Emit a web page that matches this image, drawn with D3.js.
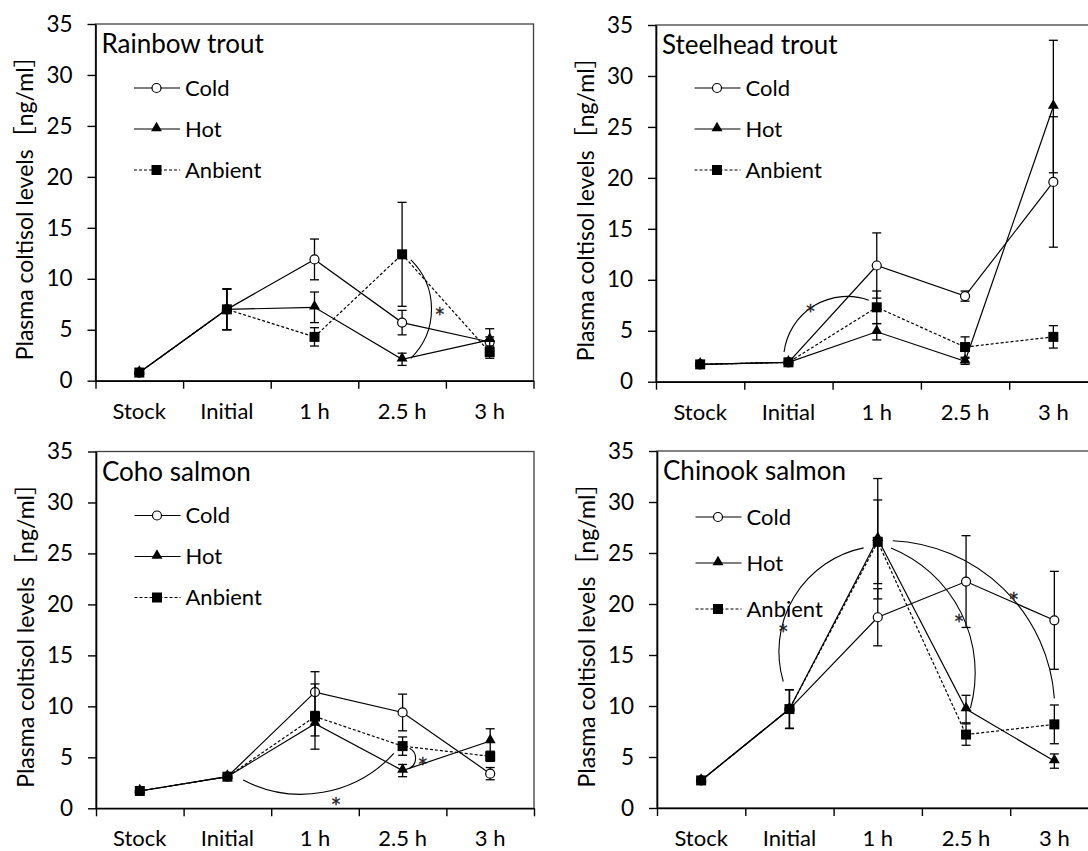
<!DOCTYPE html>
<html>
<head>
<meta charset="utf-8">
<script src="https://cdn.jsdelivr.net/npm/d3@7"></script>
<style>
  body { margin: 0; background: #fff; }
  svg { display: block; font-family: Lato, "Noto Sans CJK JP", sans-serif; }
</style>
</head>
<body>
<svg id="chart" width="1088" height="851"></svg>
<script>

var categories = ['Stock', 'Initial', '1 h', '2.5 h', '3 h'];
var yTicks = [0, 5, 10, 15, 20, 25, 30, 35];
var titles = ['Rainbow trout', 'Steelhead trout', 'Coho salmon', 'Chinook salmon'];
var seriesNames = ['Cold', 'Hot', 'Anbient'];
var yLabel = 'Plasma coltisol levels［ng/ml］';

// Rainbow trout
var rainbowCold = [0.8, 7.0, 11.9, 5.7, 3.8];
var rainbowColdErr = [0, 2.0, 2.0, 1.2, 0.5];
var rainbowHot = [0.8, 7.0, 7.2, 2.1, 4.0];
var rainbowHotErr = [0, 2.0, 1.5, 0.6, 1.1];
var rainbowAmb = [0.8, 7.0, 4.3, 12.4, 2.8];
var rainbowAmbErr = [0, 2.0, 0.9, 5.1, 0.6];

// Steelhead trout
var steelCold = [1.7, 1.9, 11.4, 8.4, 19.6];
var steelColdErr = [0, 0, 3.2, 0.5, 6.4];
var steelHot = [1.7, 1.9, 4.9, 2.0, 27.0];
var steelHotErr = [0, 0, 0.8, 0.3, 6.5];
var steelAmb = [1.7, 1.9, 7.3, 3.4, 4.4];
var steelAmbErr = [0, 0, 1.6, 1.0, 1.1];

// Coho salmon
var cohoCold = [1.7, 3.1, 11.4, 9.4, 3.4];
var cohoColdErr = [0, 0, 2.0, 1.8, 0.6];
var cohoHot = [1.7, 3.1, 8.3, 3.7, 6.6];
var cohoHotErr = [0, 0, 1.2, 0.6, 1.2];
var cohoAmb = [1.7, 3.1, 9.0, 6.1, 5.1];
var cohoAmbErr = [0, 0, 3.2, 0.9, 0.5];

// Chinook salmon
var chinookCold = [2.7, 9.7, 18.7, 22.2, 18.4];
var chinookColdErr = [0, 1.9, 2.8, 4.5, 4.8];
var chinookHot = [2.7, 9.7, 26.4, 9.7, 4.6];
var chinookHotErr = [0, 1.9, 5.9, 1.35, 0.7];
var chinookAmb = [2.7, 9.7, 26.1, 7.2, 8.2];
var chinookAmbErr = [0, 1.9, 4.1, 1.05, 1.9];

// significance arcs: [category position, value] ends, bend = sagitta / chord
var rainbowArcs = [{from: [3.10, 11.85], to: [3.10, 2.2], bend: -0.21}];
var rainbowStars = [[3.43, 6.9]];
var steelArcs = [{from: [0.95, 2.9], to: [1.91, 8.0], bend: -0.24}];
var steelStars = [[1.25, 7.35]];
var cohoArcs = [
  {from: [1.18, 2.77], to: [2.90, 5.39], bend: 0.17},
  {from: [3.08, 5.88], to: [3.08, 3.92], bend: -0.3}
];
var cohoStars = [[2.24, 0.8], [3.23, 4.74]];
var chinookArcs = [
  {from: [0.93, 12.4], to: [1.84, 25.5], bend: -0.22},
  {from: [2.15, 25.5], to: [3.05, 9.8], bend: -0.19},
  {from: [2.17, 26.2], to: [4.00, 10.75], bend: -0.19}
];
var chinookStars = [[0.93, 17.7], [2.92, 18.75], [3.54, 20.9]];

var panels = [
  {title: titles[0], box: {left: 95.5, top: 24, bottom: 380.7, band: 87.6}, legendTop: 64, legendGap: 41,
   values: [rainbowCold, rainbowHot, rainbowAmb], errs: [rainbowColdErr, rainbowHotErr, rainbowAmbErr],
   arcs: rainbowArcs, stars: rainbowStars},
  {title: titles[1], box: {left: 656, top: 25, bottom: 381.7, band: 88.3}, legendTop: 63, legendGap: 41,
   values: [steelCold, steelHot, steelAmb], errs: [steelColdErr, steelHotErr, steelAmbErr],
   arcs: steelArcs, stars: steelStars},
  {title: titles[2], box: {left: 96, top: 451.5, bottom: 808.3, band: 87.6}, legendTop: 64, legendGap: 41,
   values: [cohoCold, cohoHot, cohoAmb], errs: [cohoColdErr, cohoHotErr, cohoAmbErr],
   arcs: cohoArcs, stars: cohoStars},
  {title: titles[3], box: {left: 657, top: 451, bottom: 808, band: 88.3}, legendTop: 66, legendGap: 46,
   values: [chinookCold, chinookHot, chinookAmb], errs: [chinookColdErr, chinookHotErr, chinookAmbErr],
   arcs: chinookArcs, stars: chinookStars}
];

var markers = ['circle', 'triangle', 'square'];
var dashes = [null, null, '3,2'];

var svg = d3.select('#chart');

function drawMarker(g, type, x, y) {
  if (type === 'circle') {
    g.append('circle').attr('cx', x).attr('cy', y).attr('r', 4.5)
      .attr('fill', '#fff').attr('stroke', '#000').attr('stroke-width', 1.2);
  } else {
    var sym = type === 'triangle' ? d3.symbolTriangle : d3.symbolSquare;
    var size = type === 'triangle' ? 52 : 100;
    g.append('path').attr('d', d3.symbol().type(sym).size(size)())
      .attr('transform', 'translate(' + x + ',' + (type === 'triangle' ? y - 1 : y) + ')')
      .attr('fill', '#000');
  }
}

panels.forEach(function (p) {
  var b = p.box;
  var right = b.left + b.band * categories.length;
  var x = d3.scaleBand().domain(categories).range([b.left, right]);
  var xc = d3.scaleLinear().domain([-0.5, categories.length - 0.5]).range([b.left, right]);
  var y = d3.scaleLinear().domain([0, 35]).range([b.bottom, b.top]);
  var g = svg.append('g');

  // frame
  g.append('rect').attr('x', b.left).attr('y', b.top)
    .attr('width', right - b.left).attr('height', b.bottom - b.top)
    .attr('fill', 'none').attr('stroke', '#404040').attr('stroke-width', 1.3);

  // y axis
  var ya = g.append('g').attr('transform', 'translate(' + b.left + ',0)')
    .call(d3.axisLeft(y).tickValues(yTicks).tickSize(8).tickSizeOuter(0).tickPadding(15));
  ya.select('.domain').attr('stroke', '#000').attr('stroke-width', 1.6);
  ya.selectAll('.tick line').attr('stroke', '#000').attr('stroke-width', 1.4);
  ya.selectAll('text').attr('font-size', 22.5).attr('fill', '#000').attr('font-family', 'Lato');

  // x axis tick marks at band edges
  var xt = g.append('g').attr('transform', 'translate(0,' + b.bottom + ')')
    .call(d3.axisBottom(xc).tickValues(d3.range(-0.5, categories.length, 1)).tickSize(8).tickSizeOuter(0).tickFormat(''));
  xt.select('.domain').attr('stroke', '#000').attr('stroke-width', 1.6);
  xt.selectAll('.tick line').attr('stroke', '#000').attr('stroke-width', 1.4);

  // x labels
  var xl = g.append('g').attr('transform', 'translate(0,' + b.bottom + ')')
    .call(d3.axisBottom(x).tickSize(0));
  xl.select('.domain').remove();
  xl.selectAll('text').attr('y', 38).attr('dy', 0).attr('font-size', 22)
    .attr('fill', '#000').attr('font-family', 'Lato');

  // y label
  g.append('text')
    .attr('transform', 'translate(' + (b.left - 62.5) + ',' + ((b.top + b.bottom) / 2) + ') rotate(-90)')
    .attr('text-anchor', 'middle').attr('font-size', 23).text(yLabel);

  // title
  g.append('text').attr('x', b.left + 6).attr('y', b.top + 29)
    .attr('font-size', 26).text(p.title);

  // legend
  seriesNames.forEach(function (name, i) {
    var ry = b.top + p.legendTop + i * p.legendGap;
    g.append('line').attr('x1', b.left + 38.5).attr('x2', b.left + 84.5)
      .attr('y1', ry).attr('y2', ry).attr('stroke', '#000').attr('stroke-width', 1.2)
      .attr('stroke-dasharray', dashes[i]);
    drawMarker(g, markers[i], b.left + 61, ry);
    g.append('text').attr('x', b.left + 89.5).attr('y', ry).attr('dy', '0.36em')
      .attr('font-size', 22).text(name);
  });

  // significance arcs
  p.arcs.forEach(function (a) {
    var x0 = xc(a.from[0]), y0 = y(a.from[1]);
    var x1 = xc(a.to[0]), y1 = y(a.to[1]);
    var c = Math.hypot(x1 - x0, y1 - y0);
    var s = Math.abs(a.bend) * c;
    var r = (c * c / 4 + s * s) / (2 * s);
    var sweep = a.bend > 0 ? 0 : 1;
    g.append('path')
      .attr('d', 'M' + x0 + ',' + y0 + ' A' + r + ',' + r + ' 0 0 ' + sweep + ' ' + x1 + ',' + y1)
      .attr('fill', 'none').attr('stroke', '#000').attr('stroke-width', 1.1);
  });
  p.stars.forEach(function (st) {
    g.append('text').attr('x', xc(st[0])).attr('y', y(st[1]) + 10)
      .attr('text-anchor', 'middle').attr('font-family', 'DejaVu Sans')
      .attr('font-size', 17).attr('fill', '#222')
      .attr('stroke', '#222').attr('stroke-width', 0.4).text('*');
  });

  // series
  var line = d3.line().x(function (d, i) { return x(categories[i]) + x.bandwidth() / 2; })
    .y(function (d) { return y(d); });
  p.values.forEach(function (vals, si) {
    g.append('path').datum(vals).attr('d', line)
      .attr('fill', 'none').attr('stroke', '#000').attr('stroke-width', 1.2)
      .attr('stroke-dasharray', dashes[si]);
    var errs = p.errs[si];
    vals.forEach(function (v, i) {
      var cx = x(categories[i]) + x.bandwidth() / 2;
      var e = errs[i];
      if (e > 0) {
        var eg = g.append('g').attr('stroke', '#000').attr('stroke-width', 1.3);
        eg.append('line').attr('x1', cx).attr('x2', cx).attr('y1', y(v - e)).attr('y2', y(v + e));
        eg.append('line').attr('x1', cx - 4.5).attr('x2', cx + 4.5).attr('y1', y(v + e)).attr('y2', y(v + e));
        eg.append('line').attr('x1', cx - 4.5).attr('x2', cx + 4.5).attr('y1', y(v - e)).attr('y2', y(v - e));
      }
    });
    vals.forEach(function (v, i) {
      drawMarker(g, markers[si], x(categories[i]) + x.bandwidth() / 2, y(v));
    });
  });
});
</script>
</body>
</html>
